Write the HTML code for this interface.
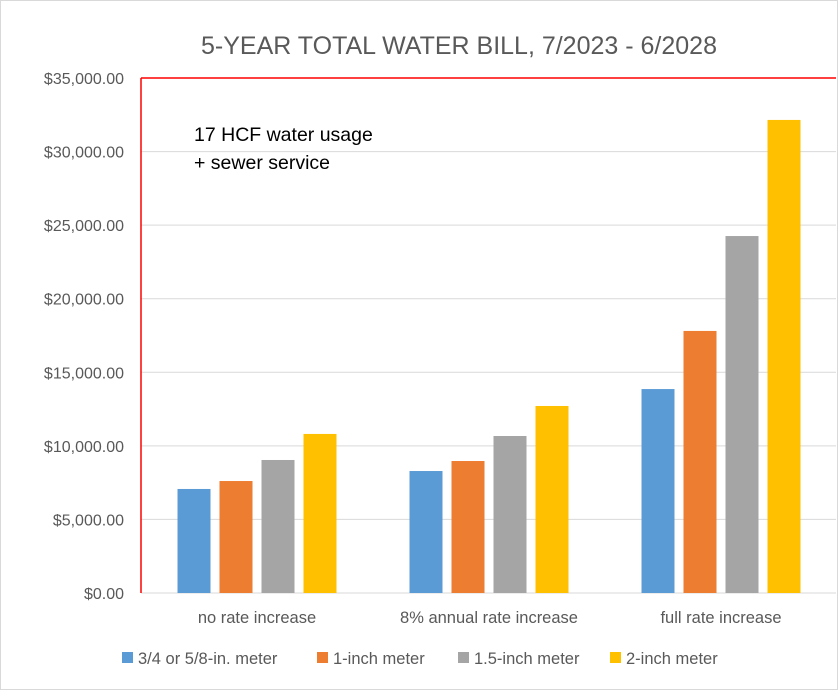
<!DOCTYPE html>
<html><head><meta charset="utf-8"><style>
body{margin:0;background:#fff;}
svg{display:block;font-family:"Liberation Sans",Calibri,sans-serif;}
</style></head><body>
<svg id="chart" width="838" height="690" viewBox="0 0 838 690">
<rect x="0.5" y="0.5" width="837" height="689" fill="#fff" stroke="#d9d9d9"/>
<text x="459" y="54" font-size="25" fill="#595959" text-anchor="middle">5-YEAR TOTAL WATER BILL, 7/2023 - 6/2028</text>
<g id="grid"></g>
<g id="bars"></g>
<line x1="141" y1="78" x2="836" y2="78" stroke="#ff0000" stroke-width="1.5"/>
<line x1="141" y1="78" x2="141" y2="593" stroke="#ff0000" stroke-width="1.5"/>
<text x="194" y="141" font-size="19.5" fill="#000">17 HCF water usage</text>
<text x="194" y="169" font-size="19.5" fill="#000">+ sewer service</text>
<g id="xlabels"></g>
<g id="legend"></g>
</svg>
<script>
const categories = ["no rate increase","8% annual rate increase","full rate increase"];
const seriesNames = ["3/4 or 5/8-in. meter","1-inch meter","1.5-inch meter","2-inch meter"];
const meter34 = [7070, 8290, 13860];
const meter1 = [7610, 8970, 17810];
const meter15 = [9040, 10670, 24260];
const meter2 = [10810, 12710, 32150];
const yTicks = [0,5000,10000,15000,20000,25000,30000,35000];
const colors = ["#5b9bd5","#ed7d31","#a5a5a5","#ffc000"];
const series=[meter34,meter1,meter15,meter2];
const NS="http://www.w3.org/2000/svg";
const x0=141,x1=837,yTop=78,yBot=593,yMax=35000;
const y=v=>yBot-(v/yMax)*(yBot-yTop);
const catW=(x1-x0)/categories.length;
const barW=33,step=42;
const bx=(c,s)=>x0+c*catW+catW/2-(step*(series.length-1))/2+s*step-barW/2;
function mk(tag,attrs,parent){const e=document.createElementNS(NS,tag);for(const k in attrs)e.setAttribute(k,attrs[k]);parent.appendChild(e);return e;}
const grid=document.getElementById('grid');
yTicks.forEach(t=>{
  const l=mk('line',{x1:x0,x2:836,y1:y(t),y2:y(t),stroke:'#d9d9d9','stroke-width':1},grid);
  
  
  const tx=mk('text',{x:124,y:y(t)+6,'font-size':16,fill:'#595959','text-anchor':'end'},grid);
  tx.textContent='$'+t.toLocaleString('en-US')+'.00';
  
  
});
const bars=document.getElementById('bars');
series.forEach((arr,s)=>arr.forEach((v,c)=>{
  const r=mk('rect',{x:bx(c,s),y:y(v),width:barW,height:yBot-y(v),fill:colors[s]},bars);
  
  
}));
const xl=document.getElementById('xlabels');
categories.forEach((c,i)=>{
  const t=mk('text',{x:x0+i*catW+catW/2,y:623,'font-size':16.5,fill:'#595959','text-anchor':'middle'},xl);
  t.textContent=c;
  
  
});
const lg=document.getElementById('legend');
const lx=[122,317,458,610];
seriesNames.forEach((n,i)=>{
  const r=mk('rect',{x:lx[i],y:652,width:11,height:11,fill:colors[i]},lg);
  
  
  const t=mk('text',{x:lx[i]+16,y:664,'font-size':16.5,fill:'#595959'},lg);
  t.textContent=n;
  
  
});
</script>
</body></html>
